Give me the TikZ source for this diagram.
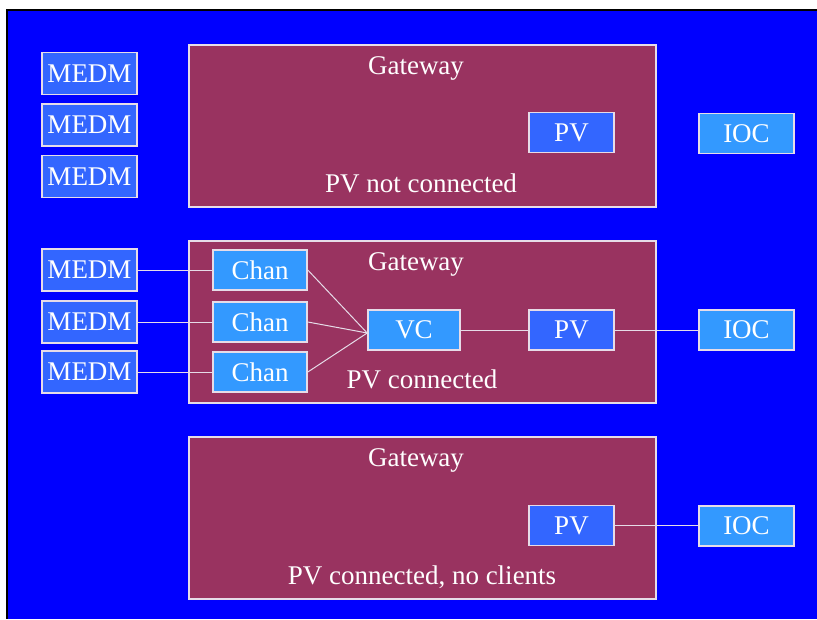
\documentclass[tikz,border=0pt]{standalone}
\usepackage{fontspec}
\setmainfont{Liberation Serif}
\definecolor{bg}{HTML}{0000FF}
\definecolor{gw}{HTML}{993360}
\definecolor{dark}{HTML}{3366FF}
\definecolor{light}{HTML}{3399FF}
\definecolor{rim}{HTML}{E6DCE8}
\begin{document}
\begin{tikzpicture}[x=1pt,y=-1pt,
  font=\fontsize{27}{31}\selectfont,
  box/.style={draw=rim, line width=1.6pt, text=white, inner sep=0pt,
    minimum height=40pt},
  medm/.style={box, fill=dark, minimum width=95pt, minimum height=42pt},
  chan/.style={box, fill=light, minimum width=94pt},
  pv/.style={box, fill=dark, minimum width=85pt},
  ioc/.style={box, fill=light, minimum width=95pt},
  gateway/.style={draw=rim, line width=1.2pt, fill=gw, inner sep=0pt,
    minimum width=467pt, minimum height=162pt},
  label/.style={text=white, anchor=base, inner sep=0pt},
  link/.style={draw=rim, line width=1pt}]
\useasboundingbox (0,0) rectangle (817,619);
% backdrop with a dark edge on the top and left
\fill[black] (6,9) rectangle (817,619);
\fill[bg] (8,11) rectangle (817,619);

% gateway panels
\node[gateway] (g1) at (422.5,126) {};
\node[gateway] (g2) at (422.5,322) {};
\node[gateway] (g3) at (422.5,518) {};

\node[label] (t1) at (416,74) {Gateway};
\node[label] (t2) at (416,270) {Gateway};
\node[label] (t3) at (416,466) {Gateway};
\node[label] (s1) at (421,192) {PV not connected};
\node[label] (s2) at (422,388) {PV connected};
\node[label] (s3) at (422,584) {PV connected, no clients};

% PV not connected
\node[medm] (m1) at (89.5,73.5) {MEDM};
\node[medm] (m2) at (89.5,125) {MEDM};
\node[medm] (m3) at (89.5,176.5) {MEDM};
\node[pv] (pv1) at (571.5,132.5) {PV};
\node[ioc] (ioc1) at (746.5,133.5) {IOC};

% PV connected
\node[medm] (m4) at (89.5,270) {MEDM};
\node[medm] (m5) at (89.5,322) {MEDM};
\node[medm] (m6) at (89.5,372) {MEDM};
\node[chan] (c1) at (260,270) {Chan};
\node[chan] (c2) at (260,322) {Chan};
\node[chan] (c3) at (260,372) {Chan};
\node[chan, minimum width=92pt] (vc) at (414,330) {VC};
\node[pv] (pv2) at (571.5,330) {PV};
\node[ioc] (ioc2) at (746.5,330) {IOC};

\draw[link] (m4) -- (c1);
\draw[link] (m5) -- (c2);
\draw[link] (m6) -- (c3);
\draw[link] (c1.east) -- ([yshift=-3pt]vc.west);
\draw[link] (c2.east) -- ([yshift=-3pt]vc.west);
\draw[link] (c3.east) -- ([yshift=-3pt]vc.west);
\draw[link] (vc) -- (pv2);
\draw[link] (pv2) -- (ioc2);

% PV connected, no clients
\node[pv] (pv3) at (571.5,525.5) {PV};
\node[ioc] (ioc3) at (746.5,526) {IOC};
\draw[link] (pv3.east) -- (pv3.east -| ioc3.west);
\end{tikzpicture}
\end{document}
